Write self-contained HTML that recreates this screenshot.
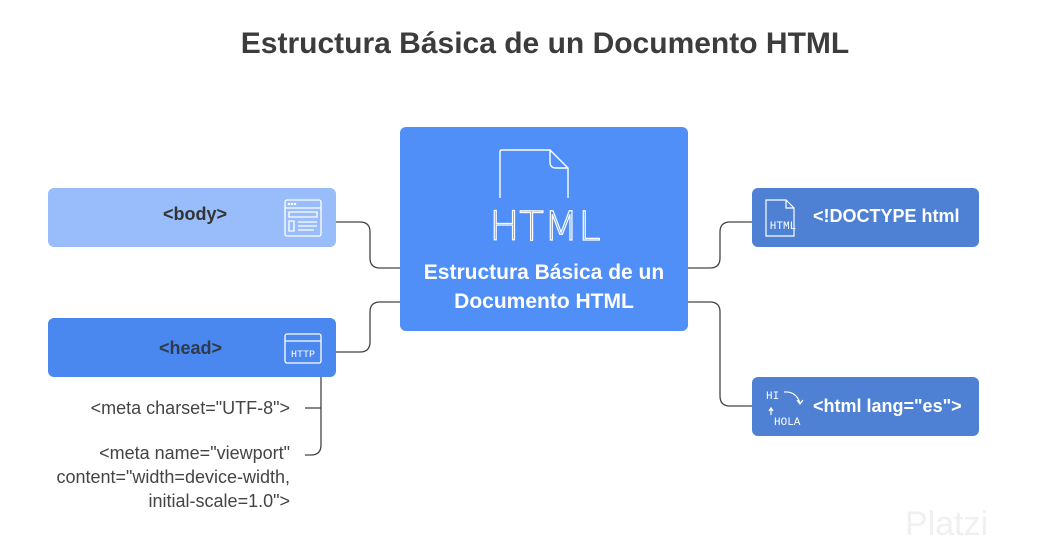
<!DOCTYPE html>
<html><head><meta charset="utf-8"><style>
body{margin:0;width:1038px;height:558px;background:#fff;position:relative;font-family:"Liberation Sans",sans-serif;overflow:hidden}
.t{position:absolute;left:0;width:1090px;text-align:center;top:27px;font-size:30px;font-weight:bold;color:#3c3c3c}
.b{position:absolute;border-radius:6px}
.lbl{position:absolute;font-weight:bold;font-size:17px}
.m{position:absolute;font-size:18px;color:#444;text-align:right;line-height:24px}
</style></head><body>
<div class="t">Estructura Básica de un Documento HTML</div>
<svg width="1038" height="558" style="position:absolute;left:0;top:0" fill="none" stroke="#444" stroke-width="1.3">
<path d="M336 222 H360 Q370 222 370 232 V258 Q370 268 380 268 H400"/>
<path d="M336 352 H360 Q370 352 370 342 V312 Q370 302 380 302 H400"/>
<path d="M688 268 H710 Q720 268 720 258 V232 Q720 222 730 222 H752"/>
<path d="M688 302 H710 Q720 302 720 312 V396 Q720 406 730 406 H752"/>
<path d="M321 377 V445 Q321 455 311 455 H305"/>
<path d="M305 408 H321"/>
</svg>
<div class="b" style="left:48px;top:188px;width:288px;height:59px;background:#98bdfa"></div>
<div class="lbl" style="left:75px;top:204px;width:240px;text-align:center;color:#333;font-size:18px">&lt;body&gt;</div>
<svg style="position:absolute;left:284px;top:198px" width="38" height="40" fill="none" stroke="#fff" stroke-width="1.3"><rect x="1" y="2" width="36" height="36" rx="2"/><path d="M1 10 H37 M5 14 H33 V19 H5Z M5 23 H10 V33 H5Z M14 24 H33 M14 28 H33 M14 32 H30"/><circle cx="5" cy="6" r=".6"/><circle cx="8" cy="6" r=".6"/><circle cx="11" cy="6" r=".6"/></svg>
<div class="b" style="left:48px;top:318px;width:288px;height:59px;background:#4a88f0"></div>
<div class="lbl" style="left:48px;top:338px;width:285px;text-align:center;color:#2f3a4d;font-size:18px">&lt;head&gt;</div>
<svg style="position:absolute;left:284px;top:333px" width="38" height="32" fill="none" stroke="#fff" stroke-width="1.3"><rect x="1" y="1" width="36" height="29" rx="2"/><path d="M1 8 H37"/><text x="19" y="24" font-size="10" fill="#fff" stroke="none" text-anchor="middle" font-family="Liberation Mono">HTTP</text></svg>
<div class="m" style="left:20px;top:396px;width:270px">&lt;meta charset="UTF-8"&gt;</div>
<div class="m" style="left:0px;top:441px;width:290px">&lt;meta name="viewport"<br>content="width=device-width,<br>initial-scale=1.0"&gt;</div>
<div class="b" style="left:400px;top:127px;width:288px;height:204px;background:#4f8ff7"></div>
<svg style="position:absolute;left:485px;top:148px" width="120" height="95" fill="none" stroke="#fff" stroke-width="1.4"><path d="M15 50 V4 Q15 2 17 2 H65 L83 20 V50 M65 2 V14 Q65 20 71 20 H83"/><text x="60" y="92" font-size="40" fill="none" stroke="#fff" stroke-width="1.2" text-anchor="middle" font-family="DejaVu Sans" font-weight="200">HTML</text></svg>
<div class="lbl" style="left:395px;top:258px;width:298px;text-align:center;color:#fff;font-size:21px;line-height:29px">Estructura Básica de un<br>Documento HTML</div>
<div class="b" style="left:752px;top:188px;width:227px;height:59px;background:#4e80d4"></div>
<svg style="position:absolute;left:764px;top:198px" width="44" height="40" fill="none" stroke="#fff" stroke-width="1.2"><path d="M2 2 H22 L30 10 V38 H2Z M22 2 V10 H30"/><text x="19" y="31" font-size="11" fill="#fff" stroke="none" text-anchor="middle" font-family="Liberation Mono">HTML</text></svg>
<div class="lbl" style="left:813px;top:206px;color:#fff;font-size:18px">&lt;!DOCTYPE html</div>
<div class="b" style="left:752px;top:377px;width:227px;height:59px;background:#4e80d4"></div>
<svg style="position:absolute;left:762px;top:385px" width="48" height="44" fill="none" stroke="#fff" stroke-width="1.2"><text x="4" y="14" font-size="11" fill="#fff" stroke="none" font-family="Liberation Mono">HI</text><text x="12" y="40" font-size="11" fill="#fff" stroke="none" font-family="Liberation Mono">HOLA</text><path d="M22 7 Q34 6 38 18 M35 15 L38 19 L41 15 M9 30 V24 M7 26 L9 23 L11 26"/></svg>
<div class="lbl" style="left:813px;top:396px;color:#fff;font-size:18px">&lt;html lang="es"&gt;</div>
<div style="position:absolute;left:905px;top:505px;font-size:34px;color:#f0f0f0">Platzi</div>
</body></html>
